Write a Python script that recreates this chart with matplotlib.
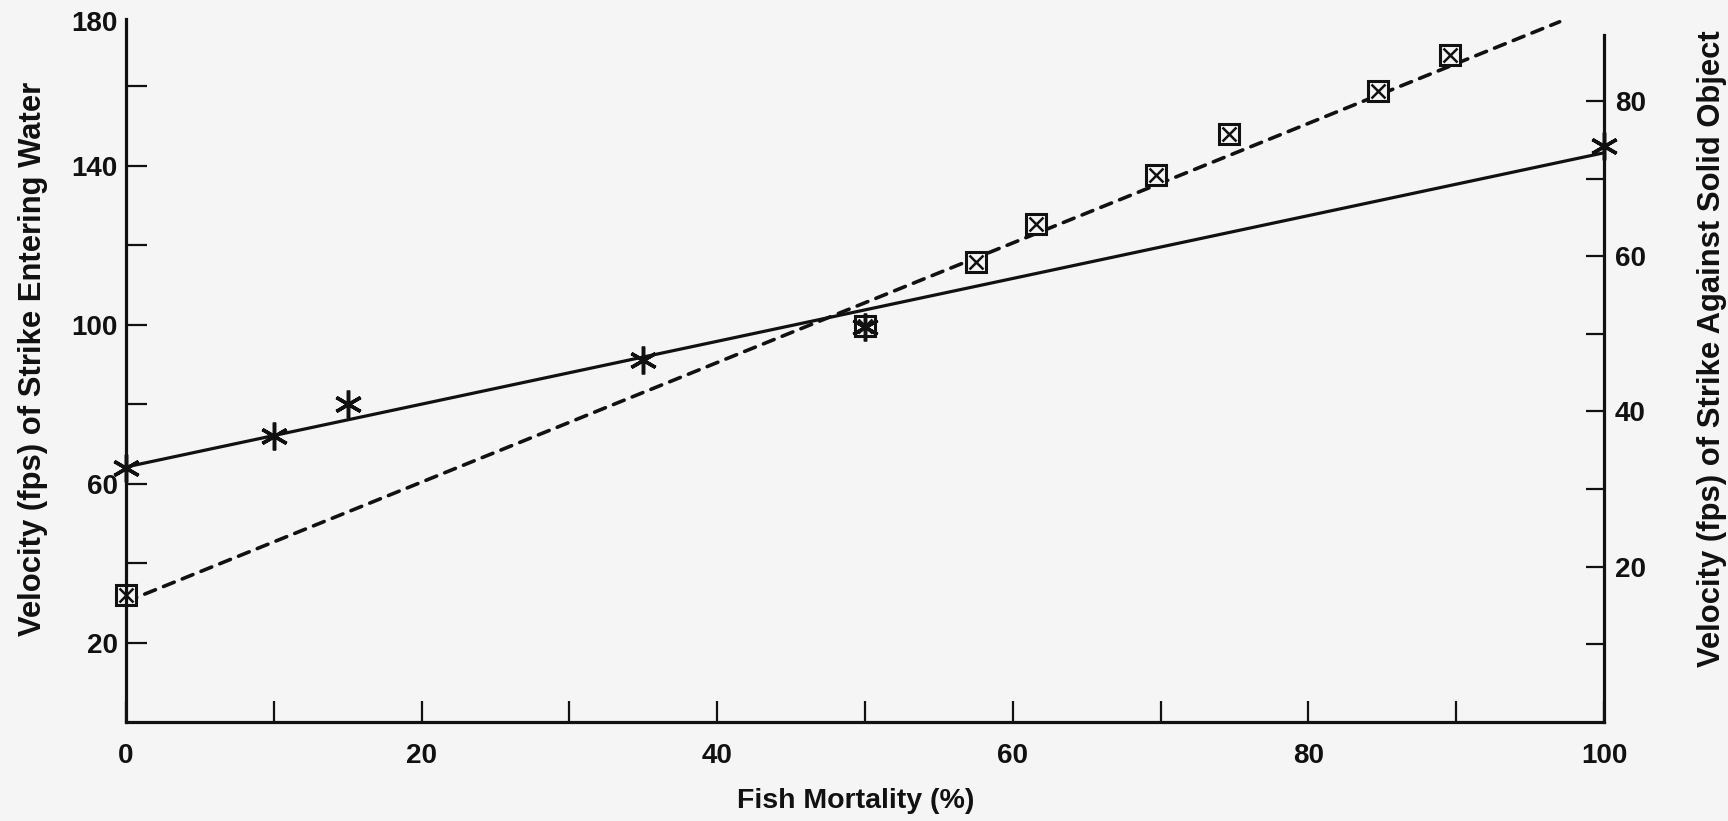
import numpy as np
import matplotlib
matplotlib.use("Agg")
import matplotlib.pyplot as plt
from matplotlib import transforms

# Strike entering water (left axis): fish mortality (%) vs velocity (fps)
water_mortality = [0, 10, 15, 35, 50, 100]
water_velocity = [64, 72, 80, 91.2, 99.5, 145]

# Strike against solid object (right axis)
solid_mortality = [0, 50, 57.5, 61.6, 69.7, 74.6, 84.7, 89.6]
solid_velocity = [16.4, 51.0, 59.2, 64.2, 70.4, 75.7, 81.3, 85.9]

# Trend lines (end points along mortality axis and their velocities)
water_trend_x = [0, 100]
water_trend_y = [64.2, 143.3]
solid_trend_x = [0, 97]
solid_trend_y = [15.5, 90.2]

x_ticks = [0, 20, 40, 60, 80, 100]
x_minor = [10, 30, 50, 70, 90]
left_ticks = [20, 60, 100, 140, 180]
left_minor = [40, 80, 120, 160]
right_ticks = [20, 40, 60, 80]
right_minor = [10, 30, 50, 70]

BG = "#f5f5f5"
INK = "#111111"

plt.rcParams["font.family"] = ["Liberation Sans", "DejaVu Sans"]
plt.rcParams["font.weight"] = "bold"

fig = plt.figure(figsize=(17.28, 8.21), dpi=100, facecolor=BG)
ax = fig.add_axes([126 / 1728, 99 / 821, 1478 / 1728, 715 / 821])
ax2 = ax.twinx()

ax.set_xlim(0, 100)
ax.set_ylim(0, 180)
ax2.set_ylim(0, 92.1)

# keep the left-axis series above the right-axis series
ax.set_zorder(ax2.get_zorder() + 1)
ax.patch.set_visible(False)
ax2.patch.set_facecolor(BG)

# trend lines
ax.plot(water_trend_x, water_trend_y, color=INK, lw=2.3,
        solid_capstyle="butt", clip_on=False)
ax2.plot(solid_trend_x, solid_trend_y, color=INK, lw=2.6,
         ls=(0, (3.2, 2.4)), dash_capstyle="round", clip_on=False)

# markers: boxed X for solid object, asterisk for water entry
ax2.plot(solid_mortality, solid_velocity, ls="none", marker="s", ms=15,
         mfc=BG, mec=INK, mew=2.2, clip_on=False)
ax2.plot(solid_mortality, solid_velocity, ls="none", marker="x", ms=10,
         mec=INK, mew=1.8, clip_on=False)
ax.plot(water_mortality, water_velocity, ls="none", marker=(6, 2, 0), ms=20,
        mec=INK, mew=2.5, clip_on=False)

# spines
for s in ["top", "right"]:
    ax.spines[s].set_visible(False)
for s in ["top", "left", "bottom"]:
    ax2.spines[s].set_visible(False)
ax.spines["left"].set_bounds(0, 177)
ax2.spines["right"].set_bounds(0, 88.5)
for sp in [ax.spines["left"], ax.spines["bottom"], ax2.spines["right"]]:
    sp.set_linewidth(2.3)
    sp.set_color(INK)

# ticks
ax.set_xticks(x_ticks)
ax.set_xticks(x_minor, minor=True)
ax.set_yticks(left_ticks)
ax.set_yticks(left_minor, minor=True)
ax2.set_yticks(right_ticks)
ax2.set_yticks(right_minor, minor=True)

ax.tick_params(axis="x", which="both", direction="in", length=15, width=1.6,
               pad=15, labelsize=20, colors=INK)
ax.tick_params(axis="y", which="both", direction="in", length=15, width=1.6,
               pad=6, labelsize=20, colors=INK)
ax2.tick_params(axis="y", which="both", direction="in", length=13, width=1.6,
                pad=8, labelsize=20, colors=INK)

for lbl in ax.get_xticklabels() + ax.get_yticklabels() + ax2.get_yticklabels():
    lbl.set_fontweight("bold")

# topmost left label sits at the end of the shortened spine
top_tick = ax.yaxis.get_major_ticks()[-1]
top_tick.tick1line.set_visible(False)
top_tick.label1.set_transform(
    top_tick.label1.get_transform()
    + transforms.ScaledTranslation(0, -14 / 100, fig.dpi_scale_trans))

# axis titles
ax.set_xlabel("Fish Mortality (%)", fontsize=20.5, fontweight="bold",
              color=INK, va="center")
ax.xaxis.set_label_coords(0.494, -0.110)
ax.set_ylabel("Velocity (fps) of Strike Entering Water", fontsize=22.3,
              fontweight="bold", color=INK, va="center")
ax.yaxis.set_label_coords(-0.063, 0.508)
ax2.set_ylabel("Velocity (fps) of Strike Against Solid Object", fontsize=22.3,
               fontweight="bold", color=INK, va="center", rotation=90)
ax2.yaxis.set_label_coords(1.073, 0.522)

fig.savefig("out.png", dpi=100, facecolor=BG)
